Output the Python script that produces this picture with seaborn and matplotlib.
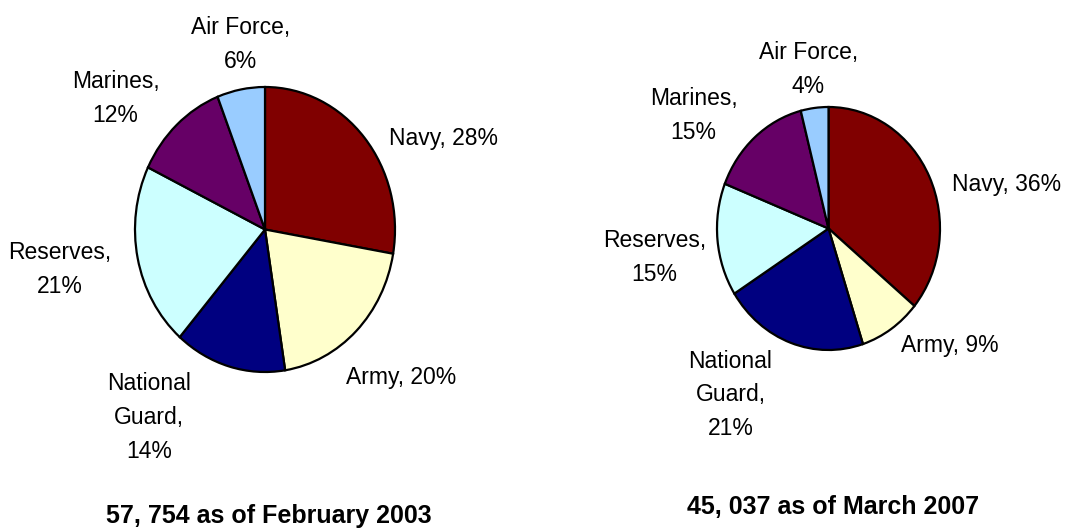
"""
Military personnel pies: distribution by service, 2003 vs 2007.
Two pie charts side by side with Excel-style labels.
"""
import matplotlib
matplotlib.use("Agg")
import matplotlib.pyplot as plt
import seaborn as sns

# =========================
# Data
# =========================
services = ["Navy", "Army", "National\nGuard", "Reserves", "Marines", "Air Force"]
share_2003 = [28, 20, 14, 21, 12, 6]
share_2007 = [36, 9, 21, 15, 15, 4]
title_2003 = "57, 754 as of February 2003"
title_2007 = "45, 037 as of March 2007"

# Excel classic palette
service_colors = ["#800000", "#FFFFCC", "#000080", "#CCFFFF", "#660066", "#99CCFF"]

# =========================
# Style
# =========================
sns.set_theme(style="white")
plt.rcParams["font.family"] = ["Liberation Sans", "DejaVu Sans"]
plt.rcParams["text.color"] = "black"

W, H = 1067, 531
fig = plt.figure(figsize=(W / 100, H / 100), dpi=100)


def px_axes(left, top, right, bottom):
    """Axes placed by pixel box (image coordinates)."""
    return fig.add_axes([left / W, 1 - bottom / H, (right - left) / W, (bottom - top) / H])


def pct_label(name, value):
    # Excel puts "Name, xx%" on one line for the short right-hand labels
    if name in ("Navy", "Army"):
        return f"{name}, {value}%"
    return f"{name},\n{value}%"


def draw_pie(ax, values, label_pos):
    ax.pie(
        values,
        colors=service_colors,
        startangle=90,
        counterclock=False,
        radius=1.0,
        wedgeprops=dict(edgecolor="black", linewidth=1.6),
    )
    ax.set_aspect("auto")
    ax.set_xlim(-1, 1)
    ax.set_ylim(-1, 1)
    ax.axis("off")
    for name, value, (lx, ly) in zip(services, values, label_pos):
        ax.text(lx, ly, pct_label(name, value), ha="center", va="center",
                multialignment="center", fontsize=16.5, linespacing=1.6,
                color="black", clip_on=False)


# label centres, in the pie's own unit coordinates
labels_left = [(1.37, 0.64), (1.05, -1.04), (-0.89, -1.32),
               (-1.58, -0.28), (-1.15, 0.92), (-0.19, 1.30)]
labels_right = [(1.60, 0.36), (1.09, -0.96), (-0.88, -1.37),
                (-1.56, -0.24), (-1.21, 0.93), (-0.18, 1.31)]

ax1 = px_axes(135, 87, 395, 372)
draw_pie(ax1, share_2003, labels_left)

ax2 = px_axes(717, 107, 940, 350)
draw_pie(ax2, share_2007, labels_right)

fig.text(269 / W, 1 - 516 / H, title_2003, ha="center", va="center",
         fontsize=18, fontweight="bold", color="black")
fig.text(833 / W, 1 - 507 / H, title_2007, ha="center", va="center",
         fontsize=18, fontweight="bold", color="black")

plt.savefig("out.png", dpi=100)
plt.close()
